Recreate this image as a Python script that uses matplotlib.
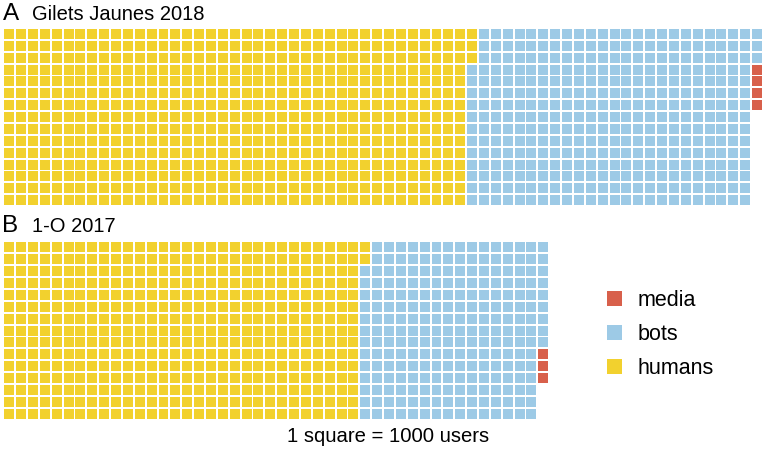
import matplotlib
matplotlib.use("Agg")
import matplotlib.pyplot as plt
from matplotlib.patches import Rectangle, Patch

plt.rcParams['font.family'] = ['Liberation Sans', 'DejaVu Sans']

# Data (1 square = 1000 users)
categories = ["humans", "bots", "media"]
colors = {"humans": "#F2D12E", "bots": "#9DCAE6", "media": "#D8604B"}
gilets_counts = [588, 360, 4]
oct_counts = [452, 232, 3]
n_rows = 15
panel_titles = ["Gilets Jaunes 2018", "1-O 2017"]
panel_letters = ["A", "B"]
legend_order = ["media", "bots", "humans"]
caption = "1 square = 1000 users"

W, H = 762, 455
fig = plt.figure(figsize=(W / 100, H / 100), dpi=100)

pitch = 11.87
sq = 0.84


def waffle(ax, counts):
    idx = 0
    for cat, n in zip(categories, counts):
        for _ in range(n):
            col, row = divmod(idx, n_rows)
            ax.add_patch(Rectangle((col, row), sq, sq, facecolor=colors[cat],
                                   edgecolor='none', linewidth=0))
            idx += 1
    ncols = -(-idx // n_rows)
    ax.set_xlim(0, ncols)
    ax.set_ylim(n_rows, 0)
    ax.axis('off')
    return ncols


def make_axes(counts, left_px, top_px):
    total = sum(counts)
    ncols = -(-total // n_rows)
    w = ncols * pitch
    h = n_rows * pitch
    ax = fig.add_axes([left_px / W, 1 - (top_px + h) / H, w / W, h / H])
    waffle(ax, counts)
    return ax


axA = make_axes(gilets_counts, 4.2, 29.0)
axB = make_axes(oct_counts, 4.2, 242.5)

# panel labels and titles
for letter, title, base in zip(panel_letters, panel_titles, [20.0, 232.5]):
    fig.text(2.5 / W, 1 - base / H, letter, fontsize=17.5, va='baseline', ha='left',
             color='#000000')
    fig.text(31.5 / W, 1 - base / H, title, fontsize=14.5, va='baseline', ha='left',
             color='#000000')

# legend
handles = [Patch(facecolor=colors[c], edgecolor='none') for c in legend_order]
fs = 15.5
fpx = fs * 100 / 72
leg = fig.legend(handles, legend_order, loc='upper left',
                 bbox_to_anchor=(603 / W, 1 - 286 / H),
                 frameon=False, fontsize=fs, handlelength=15 / fpx, handleheight=15 / fpx,
                 handletextpad=15 / fpx, labelspacing=0.6, borderaxespad=0,
                 borderpad=0.2)

fig.text(388 / W, 1 - 442.5 / H, caption, fontsize=14.6, ha='center', va='baseline',
         color='#000000')

fig.savefig("out.png", dpi=100)
